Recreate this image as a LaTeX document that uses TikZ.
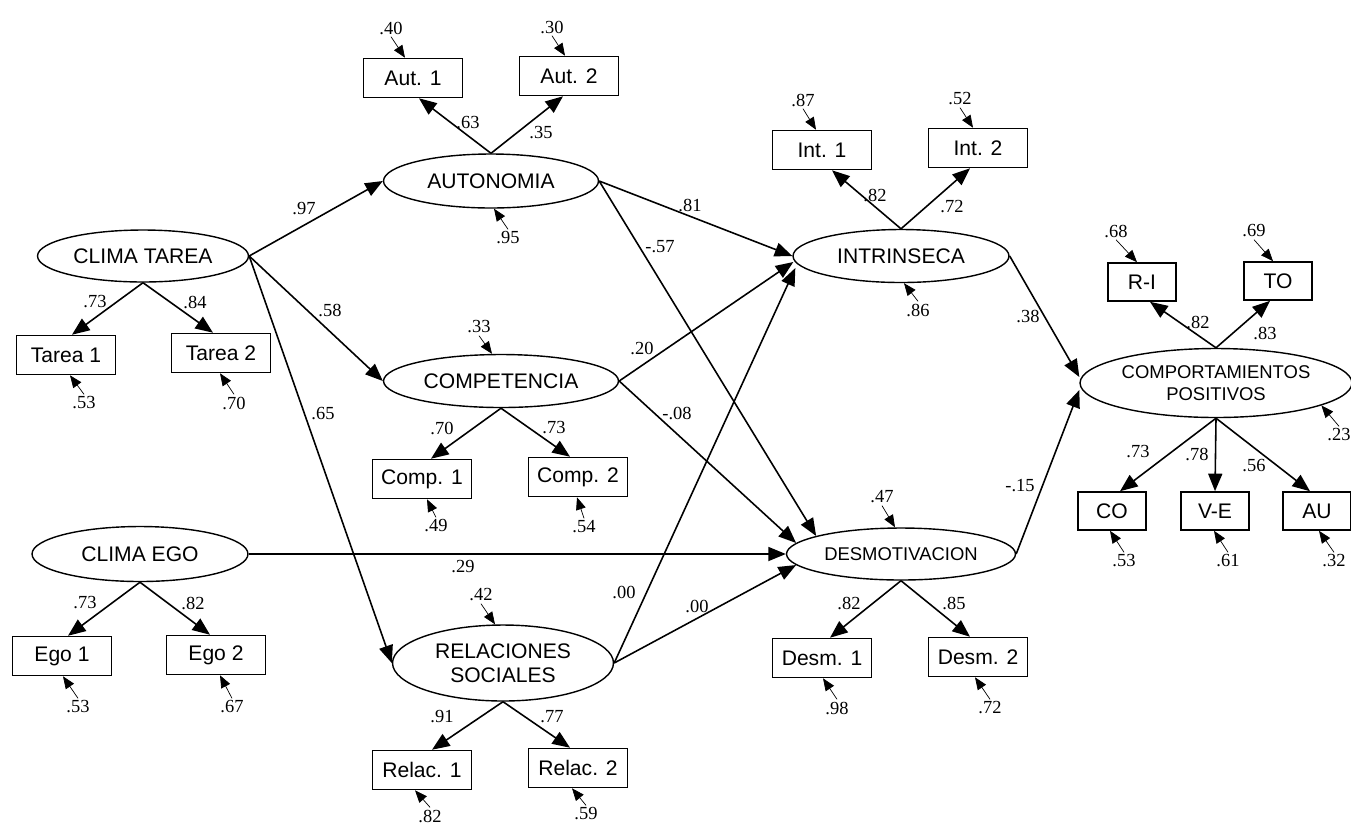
\documentclass[tikz,border=0pt]{standalone}
\usepackage{fontspec}
\setmainfont{Liberation Serif}
\newfontfamily\arialf{Liberation Sans}
\usetikzlibrary{shapes.geometric,arrows.meta,calc}
\begin{document}
\begin{tikzpicture}[x=0.02cm,y=-0.02cm,
  lat/.style={ellipse,draw,line width=0.8pt,inner sep=0pt,align=center,font=\arialf\fontsize{12}{13.5}\selectfont},
  obs/.style={rectangle,draw,line width=0.9pt,inner sep=0pt,minimum width=1.98cm,minimum height=0.78cm,font=\arialf\fontsize{12}{13}\selectfont},
  sobs/.style={obs,minimum width=1.36cm,minimum height=0.76cm},
  num/.style={inner sep=1.2pt,font=\fontsize{10.5}{12}\selectfont},
  pth/.style={line width=0.9pt,-{Triangle[length=10pt,width=8pt]}},
  err/.style={line width=0.4pt,-{Triangle[length=7pt,width=5.6pt]}}
]
\useasboundingbox (0,0) rectangle (1351,826);

% latent variables
\node[lat,minimum width=4.22cm,minimum height=1.04cm] (ct) at (143,256) {CLIMA TAREA};
\node[lat,minimum width=4.3cm,minimum height=1.08cm] (au) at (491,181) {AUTONOMIA};
\node[lat,minimum width=4.7cm,minimum height=1.06cm] (cm) at (501,381) {COMPETENCIA};
\node[lat,minimum width=4.32cm,minimum height=1.1cm] (ce) at (140,554) {CLIMA EGO};
\node[lat,minimum width=4.42cm,minimum height=1.52cm] (rs) at (503,663) {RELACIONES\\SOCIALES};
\node[lat,minimum width=4.32cm,minimum height=1.06cm] (in) at (901,256) {INTRINSECA};
\node[lat,minimum width=4.58cm,minimum height=1.04cm,font=\arialf\fontsize{10.5}{12}\selectfont] (de) at (901,554) {DESMOTIVACION};
\node[lat,minimum width=5.44cm,minimum height=1.38cm,font=\arialf\fontsize{10.5}{12.5}\selectfont] (cp) at (1216,383) {COMPORTAMIENTOS\\POSITIVOS};

% observed variables
\node[obs] (t1) at (66,355) {Tarea 1};
\node[obs] (t2) at (221,353) {Tarea 2};
\node[obs] (a1) at (413,78) {Aut. 1};
\node[obs] (a2) at (569,76) {Aut. 2};
\node[obs] (c1) at (422,479) {Comp. 1};
\node[obs] (c2) at (578,477) {Comp. 2};
\node[obs] (e1) at (62,656) {Ego 1};
\node[obs] (e2) at (216,655) {Ego 2};
\node[obs] (r1) at (422,770) {Relac. 1};
\node[obs] (r2) at (578,768) {Relac. 2};
\node[obs] (i1) at (822,150) {Int. 1};
\node[obs] (i2) at (978,148) {Int. 2};
\node[obs] (d1) at (822,658) {Desm. 1};
\node[obs] (d2) at (978,657) {Desm. 2};
\node[sobs] (ri) at (1142,282) {R-I};
\node[sobs] (to) at (1278,281) {TO};
\node[sobs] (co) at (1112,511) {CO};
\node[sobs] (ve) at (1215,511) {V-E};
\node[sobs] (aa) at (1317,511) {AU};

% loadings
\draw[pth] (ct.south) -- ($(t1.north)+(6,0)$);
\draw[pth] (ct.south) -- ($(t2.north)+(-8,0)$);
\draw[pth] (au.north) -- ($(a1.south)+(6,0)$);
\draw[pth] (au.north) -- ($(a2.south)+(-6,0)$);
\draw[pth] (cm.south) -- ($(c1.north)+(9,0)$);
\draw[pth] (cm.south) -- ($(c2.north)+(-8,0)$);
\draw[pth] (ce.south) -- ($(e1.north)+(6,0)$);
\draw[pth] (ce.south) -- ($(e2.north)+(-6,0)$);
\draw[pth] (rs.south) -- ($(r1.north)+(10,0)$);
\draw[pth] (rs.south) -- ($(r2.north)+(-8,0)$);
\draw[pth] (in.north) -- ($(i1.south)+(10,0)$);
\draw[pth] (in.north) -- ($(i2.south)+(-8,0)$);
\draw[pth] (de.south) -- ($(d1.north)+(8,0)$);
\draw[pth] (de.south) -- ($(d2.north)+(-8,0)$);
\draw[pth] (cp.north) -- ($(ri.south)+(8,0)$);
\draw[pth] (cp.north) -- ($(to.south)+(-8,0)$);
\draw[pth] (cp.south) -- ($(co.north)+(8,0)$);
\draw[pth] (cp.south) -- (ve.north);
\draw[pth] (cp.south) -- ($(aa.north)+(-7,0)$);

\node[num] (l1) at (95,302) {.73};
\node[num] (l2) at (195,302) {.84};
\node[num] (l3) at (468,123) {.63};
\node[num] (l4) at (541,133) {.35};
\node[num] (l5) at (442,428) {.70};
\node[num] (l6) at (554,428) {.73};
\node[num] (l7) at (85,603) {.73};
\node[num] (l8) at (193,603) {.82};
\node[num] (l9) at (442,717) {.91};
\node[num] (l10) at (552,717) {.77};
\node[num] (l11) at (875,195) {.82};
\node[num] (l12) at (952,207) {.72};
\node[num] (l13) at (849,603) {.82};
\node[num] (l14) at (954,603) {.85};
\node[num] (l15) at (1198,322) {.82};
\node[num] (l16) at (1265,333) {.83};
\node[num] (l17) at (1138,452) {.73};
\node[num] (l18) at (1197,454) {.78};
\node[num] (l19) at (1254,466) {.56};

% structural paths
\draw[pth] (ct.east) -- (au.west);
\draw[pth] (ct.east) -- (cm.west);
\draw[pth] (ct.east) -- (rs.west);
\draw[pth] (au.east) -- (in.west);
\draw[pth] (au.east) -- (de.168);
\draw[pth] (cm.east) -- ($(in.west)+(1,6)$);
\draw[pth] (cm.east) -- (de.174);
\draw[pth] (ce.east) -- (de.west);
\draw[pth] (rs.east) -- ($(in.west)+(3,12)$);
\draw[pth] (rs.east) -- (de.186);
\draw[pth] (in.east) -- ($(cp.west)+(0,-6)$);
\draw[pth] (de.east) -- ($(cp.west)+(0,7)$);

\node[num] (s1) at (304,209) {.97};
\node[num] (s2) at (330,310) {.58};
\node[num] (s3) at (323,414) {.65};
\node[num] (s4) at (690,205) {.81};
\node[num] (s5) at (660,247) {-.57};
\node[num] (s6) at (642,348) {.20};
\node[num] (s7) at (677,413) {-.08};
\node[num] (s8) at (463,567) {.29};
\node[num] (s9) at (624,592) {.00};
\node[num] (s10) at (697,606) {.00};
\node[num] (s11) at (1028,316) {.38};
\node[num] (s12) at (1020,486) {-.15};

% residuals of observed variables
\node[num] (q1) at (391,28) {.40};
\node[num] (q2) at (552,27) {.30};
\node[num] (q3) at (803,100) {.87};
\node[num] (q4) at (960,99) {.52};
\node[num] (q5) at (1116,231) {.68};
\node[num] (q6) at (1254,231) {.69};
\draw[err] (q1.south) -- ($(a1.north)+(-8,0)$);
\draw[err] (q2.south) -- ($(a2.north)+(-4,0)$);
\draw[err] (q3.south) -- ($(i1.north)+(-6,0)$);
\draw[err] (q4.south) -- ($(i2.north)+(-5,0)$);
\draw[err] (q5.south) -- ($(ri.north)+(-5,0)$);
\draw[err] (q6.south) -- ($(to.north)+(-5,0)$);

\node[num] (b1) at (84,403) {.53};
\node[num] (b2) at (234,403) {.70};
\node[num] (b3) at (436,526) {.49};
\node[num] (b4) at (584,527) {.54};
\node[num] (b5) at (78,707) {.53};
\node[num] (b6) at (232,707) {.67};
\node[num] (b7) at (430,816) {.82};
\node[num] (b8) at (586,814) {.59};
\node[num] (b9) at (837,708) {.98};
\node[num] (b10) at (990,708) {.72};
\node[num] (b11) at (1124,561) {.53};
\node[num] (b12) at (1228,561) {.61};
\node[num] (b13) at (1334,561) {.32};
\draw[err] (b1.north) -- ($(t1.south)+(4,0)$);
\draw[err] (b2.north) -- ($(t2.south)+(-1,0)$);
\draw[err] (b3.north) -- ($(c1.south)+(5,0)$);
\draw[err] (b4.north) -- ($(c2.south)+(-1,0)$);
\draw[err] (b5.north) -- ($(e1.south)+(1,0)$);
\draw[err] (b6.north) -- ($(e2.south)+(4,0)$);
\draw[err] (b7.north) -- ($(r1.south)+(-7,0)$);
\draw[err] (b8.north) -- ($(r2.south)+(-6,0)$);
\draw[err] (b9.north) -- ($(d1.south)+(1,0)$);
\draw[err] (b10.north) -- ($(d2.south)+(-3,0)$);
\draw[err] (b11.north) -- ($(co.south)+(-2,0)$);
\draw[err] (b12.north) -- ($(ve.south)+(-1,0)$);
\draw[err] (b13.north) -- ($(aa.south)+(2,0)$);

% residuals of latent variables
\node[num] (z1) at (508,238) {.95};
\node[num] (z2) at (479,327) {.33};
\node[num] (z3) at (481,595) {.42};
\node[num] (z4) at (918,310) {.86};
\node[num] (z5) at (882,497) {.47};
\node[num] (z6) at (1339,435) {.23};
\draw[err] (z1.north) -- ($(au.south)+(3,0)$);
\draw[err] (z2.south) -- ($(cm.north)+(-9,0)$);
\draw[err] (z3.south) -- ($(rs.north)+(-8,0)$);
\draw[err] (z4.north) -- ($(in.south)+(3,0)$);
\draw[err] (z5.south) -- ($(de.north)+(-6,0)$);
\draw[err] (z6.north) -- (cp.-12);
\end{tikzpicture}
\end{document}
